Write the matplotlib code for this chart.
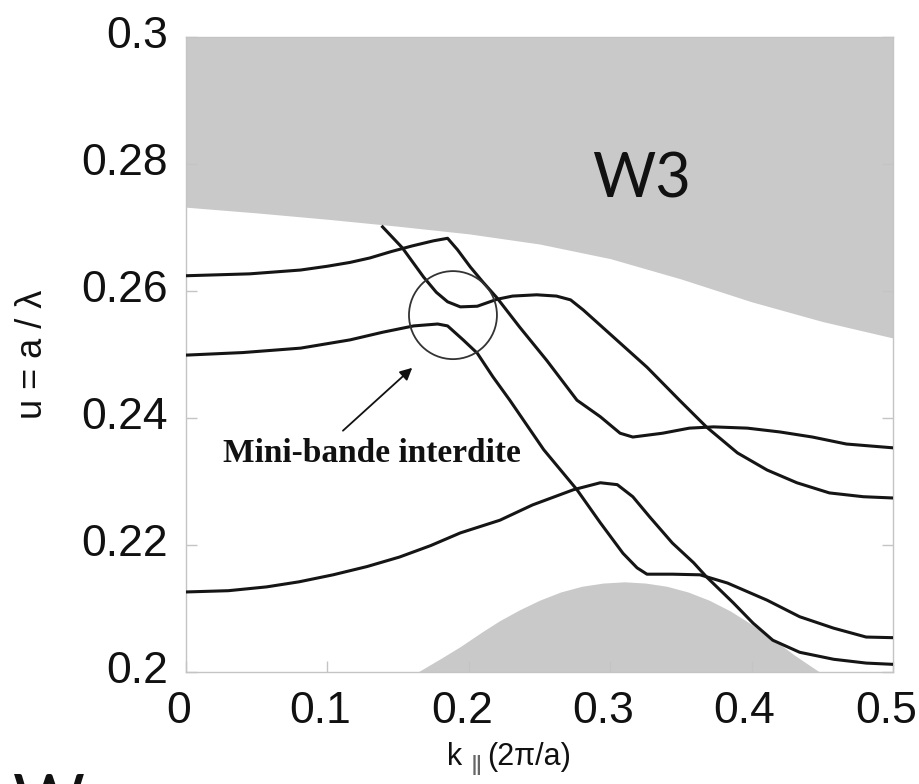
import matplotlib
matplotlib.use('Agg')
import matplotlib.pyplot as plt
from matplotlib.patches import Ellipse
from matplotlib.transforms import ScaledTranslation

# wave vector k (units of 2pi/a) and reduced frequency u = a/lambda
# band 1: leaves the upper light cone, flat mini-band, then drops
k1 = [0.139, 0.153, 0.168, 0.177, 0.185, 0.194, 0.206, 0.220, 0.231, 0.248, 0.262,
      0.272, 0.281, 0.302, 0.326, 0.349, 0.368, 0.390, 0.411, 0.432, 0.455, 0.479, 0.500]
u1 = [0.2701, 0.2668, 0.2622, 0.2598, 0.2583, 0.2575, 0.2576, 0.2587, 0.2592, 0.2594, 0.2592,
      0.2586, 0.2570, 0.2528, 0.2480, 0.2428, 0.2386, 0.2345, 0.2318, 0.2298, 0.2282, 0.2276, 0.2274]

# band 2: starts at 0.2624
k2 = [0.000, 0.045, 0.081, 0.100, 0.116, 0.130, 0.145, 0.160, 0.175, 0.185, 0.192, 0.201, 0.210,
      0.220, 0.236, 0.255, 0.2765, 0.293, 0.307, 0.316, 0.337, 0.356, 0.373, 0.397, 0.420, 0.443,
      0.467, 0.500]
u2 = [0.2624, 0.2627, 0.2633, 0.2639, 0.2645, 0.2652, 0.2662, 0.2671, 0.2679, 0.2683, 0.2665, 0.2638,
      0.2614, 0.2589, 0.2543, 0.2491, 0.2428, 0.2402, 0.2376, 0.2370, 0.2376, 0.2384, 0.2386, 0.2384,
      0.2378, 0.2370, 0.2359, 0.2353]

# band 3: starts at 0.2499
k3 = [0.000, 0.040, 0.081, 0.116, 0.139, 0.161, 0.178, 0.185, 0.196, 0.206, 0.217, 0.229, 0.253,
      0.2765, 0.293, 0.309, 0.319, 0.326, 0.344, 0.3635, 0.383, 0.411, 0.434, 0.458, 0.481, 0.500]
u3 = [0.2499, 0.2503, 0.2510, 0.2523, 0.2535, 0.2545, 0.2548, 0.2545, 0.2523, 0.2502, 0.2465, 0.2428,
      0.2350, 0.2287, 0.2235, 0.2187, 0.2164, 0.2154, 0.2154, 0.2153, 0.2140, 0.2113, 0.2087, 0.2069,
      0.2055, 0.2054]

# band 4: starts at 0.2126
k4 = [0.000, 0.030, 0.057, 0.080, 0.104, 0.128, 0.151, 0.173, 0.194, 0.222, 0.245, 0.274, 0.293,
      0.305, 0.316, 0.328, 0.344, 0.359, 0.368, 0.387, 0.401, 0.415, 0.434, 0.458, 0.481, 0.500]
u4 = [0.2126, 0.2128, 0.2134, 0.2142, 0.2153, 0.2166, 0.2181, 0.2199, 0.2219, 0.2239, 0.2263, 0.2287,
      0.2298, 0.2295, 0.2276, 0.2244, 0.2203, 0.2172, 0.2150, 0.2109, 0.2077, 0.2050, 0.2031, 0.2020,
      0.2014, 0.2012]

# upper light line (shaded above)
k_top = [0.00, 0.05, 0.10, 0.15, 0.20, 0.25, 0.30, 0.35, 0.40, 0.45, 0.50]
u_top = [0.2732, 0.2723, 0.2713, 0.2702, 0.2690, 0.2674, 0.2651, 0.2619, 0.2583, 0.2552, 0.2526]

# lower guided region (shaded dome)
k_low = [0.164, 0.180, 0.194, 0.210, 0.222, 0.236, 0.250, 0.265, 0.280, 0.295, 0.310, 0.325,
         0.340, 0.355, 0.370, 0.385, 0.400, 0.415, 0.430, 0.440, 0.448]
u_low = [0.2000, 0.2021, 0.2040, 0.2064, 0.2081, 0.2098, 0.2113, 0.2126, 0.2135, 0.2140, 0.2142, 0.2140,
         0.2135, 0.2126, 0.2113, 0.2096, 0.2075, 0.2052, 0.2027, 0.2012, 0.2000]

xticks = [0, 0.1, 0.2, 0.3, 0.4, 0.5]
xlabels = ['0', '0.1', '0.2', '0.3', '0.4', '0.5']
yticks = [0.2, 0.22, 0.24, 0.26, 0.28, 0.3]
ylabels = ['0.2', '0.22', '0.24', '0.26', '0.28', '0.3']

sans = ['Liberation Sans', 'DejaVu Sans']
gray = '#c9c9c9'
axcol = '#c4c4c4'

fig = plt.figure(figsize=(9.19, 7.84), dpi=100)
ax = fig.add_axes([0.2024, 0.1429, 0.7693, 0.8099])

ax.fill_between(k_top, u_top, 0.3, color=gray, lw=0, zorder=1)
ax.fill_between(k_low, 0.2, u_low, color=gray, lw=0, zorder=1)

for k, u in [(k1, u1), (k2, u2), (k3, u3), (k4, u4)]:
    ax.plot(k, u, color='#151515', lw=2.2, zorder=3, solid_joinstyle='round')

# mini-gap marker
ax.add_patch(Ellipse((0.1888, 0.2562), 0.0622, 0.01386, fill=False,
                     edgecolor='#333333', lw=1.3, zorder=4))
ax.annotate('', xy=(0.160, 0.2479), xytext=(0.111, 0.2380),
            arrowprops=dict(arrowstyle='-|>', color='#111111', lw=1.3,
                            mutation_scale=18, shrinkA=0, shrinkB=0))
ax.text(0.1315, 0.2331, 'Mini-bande interdite', ha='center', va='baseline',
        fontsize=24, fontweight='bold', family='Liberation Serif', color='#111111')
ax.text(0.3218, 0.27465, 'W3', ha='center', va='baseline', fontsize=44,
        family=['Lato', 'Open Sans', 'DejaVu Sans'], color='#111111', zorder=5)

ax.set_xlim(0, 0.5)
ax.set_ylim(0.2, 0.3)
ax.set_xticks(xticks)
ax.set_xticklabels(xlabels)
ax.set_yticks(yticks)
ax.set_yticklabels(ylabels)
ax.tick_params(direction='in', length=8, width=1, color=axcol,
               labelsize=32, labelcolor='#111111')
ax.tick_params(axis='x', pad=14)
ax.tick_params(axis='y', pad=13, right=True)
for lab in ax.get_xticklabels() + ax.get_yticklabels():
    lab.set_family(sans)
for lab in ax.get_xticklabels():
    lab.set_transform(lab.get_transform() + ScaledTranslation(-0.07, 0, fig.dpi_scale_trans))
for lab in ax.get_yticklabels():
    lab.set_transform(lab.get_transform() + ScaledTranslation(0, 0.05, fig.dpi_scale_trans))
for s in ax.spines.values():
    s.set_color(axcol)
    s.set_linewidth(1)

# axis titles
fig.text(32 / 919, 1 - 354 / 784, 'u = a / λ', rotation=90, ha='center', va='center',
         fontsize=26, family=sans, color='#111111')
fig.text(447 / 919, 1 - 765 / 784, 'k', ha='left', va='baseline',
         fontsize=22, family=sans, color='#111111')
fig.text(471 / 919, 1 - 755 / 784, '\u2016', ha='left', va='top',
         fontsize=20, family=sans, color='#666666')
fig.text(487 / 919, 1 - 765 / 784, '(2π/a)', ha='left', va='baseline',
         fontsize=22, family=sans, color='#111111')

# next panel heading, cut at the bottom edge
fig.text(13 / 919, 1 - 773 / 784, 'W', ha='left', va='top',
         fontsize=50, family=['Lato', 'DejaVu Sans'], color='#111111')

fig.savefig('out.png', dpi=100)
